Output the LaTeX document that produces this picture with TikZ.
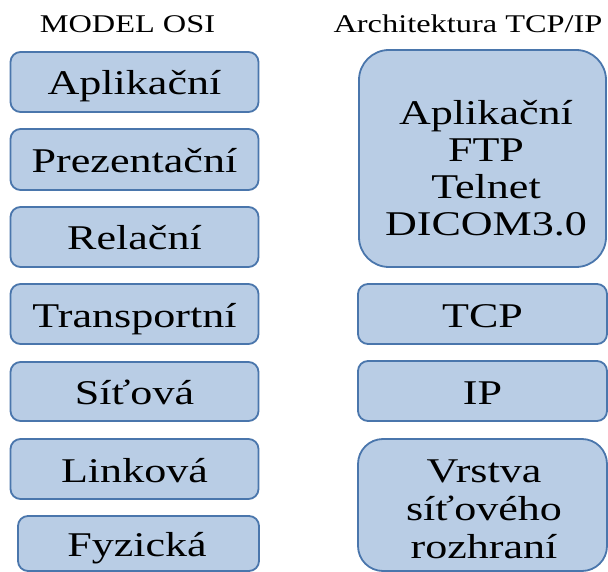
\documentclass[tikz,border=0pt]{standalone}
\usepackage{fontspec}
\setmainfont{Liberation Serif}[FakeStretch=1.27]
\definecolor{boxfill}{HTML}{B9CDE5}
\definecolor{boxline}{HTML}{4A76AC}
\tikzset{
  layer/.style={draw=boxline, fill=boxfill, line width=1.8pt, rounded corners=10pt,
    inner sep=0pt, text height=34pt, text depth=8pt, font=\fontsize{34.7}{37}\selectfont},
  bigbox/.style={draw=boxline, fill=boxfill, line width=1.8pt, inner sep=0pt},
  ltext/.style={anchor=base, inner sep=0pt, font=\fontsize{34.7}{37}\selectfont},
  head/.style={anchor=base, inner sep=0pt, font=\fontsize{25.5}{28}\selectfont}
}
\begin{document}
\begin{tikzpicture}[x=1pt,y=-1pt]
\useasboundingbox (0,0) rectangle (608,572);
\clip (0,0) rectangle (608,572);
\fill[white] (0,0) rectangle (608,572);
% headers
\node[head] (hosi) at (127.5,33) {MODEL OSI};
\node[head] (htcp) at (468,33) {Architektura TCP/IP};
% OSI column
\node[layer, minimum width=248pt, minimum height=60pt] (o7) at (134.5,82) {Aplikační};
\node[layer, minimum width=248pt, minimum height=61pt] (o6) at (134.5,159.5) {Prezentační};
\node[layer, minimum width=248pt, minimum height=60pt] (o5) at (134.5,237) {Relační};
\node[layer, minimum width=248pt, minimum height=60pt] (o4) at (134.5,314) {Transportní};
\node[layer, minimum width=248pt, minimum height=59pt] (o3) at (134.5,391.5) {Síťová};
\node[layer, minimum width=248pt, minimum height=60pt] (o2) at (134.5,469) {Linková};
\node[layer, minimum width=241pt, minimum height=55pt, text height=0pt, text depth=0pt] (o1) at (138.5,543.5) {};
\node[ltext] (o1t) at (137,556) {Fyzická};
% TCP/IP column
\node[bigbox, rounded corners=30pt, minimum width=247pt, minimum height=217pt] (tapp) at (482.5,158.5) {};
\node[ltext] (tapp1) at (486,125) {Aplikační};
\node[ltext] (tapp2) at (486,162) {FTP};
\node[ltext] (tapp3) at (486,199) {Telnet};
\node[ltext] (tapp4) at (486,236) {DICOM3.0};
\node[layer, minimum width=249pt, minimum height=60pt] (ttcp) at (482.5,314) {TCP};
\node[layer, minimum width=249pt, minimum height=60pt] (tip) at (482.5,391) {IP};
\node[bigbox, rounded corners=25pt, minimum width=249pt, minimum height=132pt] (tnet) at (482.5,505) {};
\node[ltext] (tnet1) at (484,482) {Vrstva};
\node[ltext] (tnet2) at (484,520) {síťového};
\node[ltext] (tnet3) at (484,558) {rozhraní};
\end{tikzpicture}
\end{document}
